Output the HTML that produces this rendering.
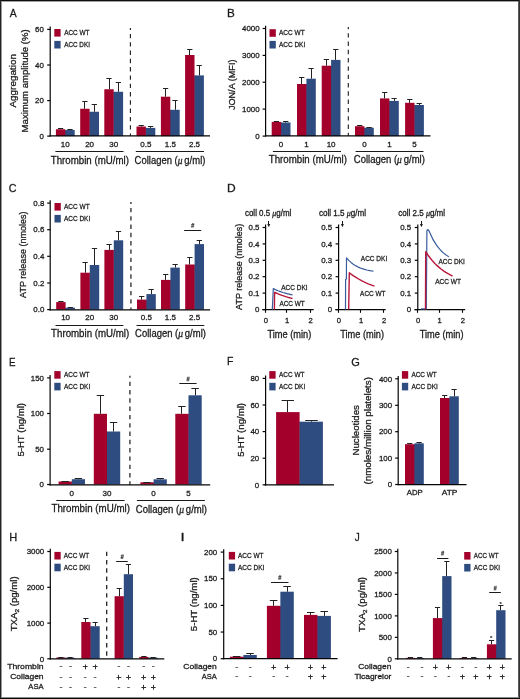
<!DOCTYPE html>
<html><head><meta charset="utf-8"><style>
html,body{margin:0;padding:0;background:#fff;}
body{width:520px;height:699px;overflow:hidden;position:relative;}
svg{position:absolute;left:0;top:0;font-family:"Liberation Sans", sans-serif;will-change:transform;}
text{stroke:#1a1a1a;stroke-width:0.28px;}
</style></head><body>
<svg width="520" height="699" viewBox="0 0 520 699">
<rect x="0" y="0" width="520" height="699" fill="#fff"/>
<text x="9.78" y="17.40" font-size="11.4" text-anchor="start" textLength="6.95" lengthAdjust="spacingAndGlyphs" fill="#1a1a1a">A</text>
<line x1="50.20" y1="26.60" x2="50.20" y2="136.40" stroke="#050505" stroke-width="1.2"/>
<line x1="47.20" y1="29.40" x2="50.20" y2="29.40" stroke="#050505" stroke-width="1.2"/>
<text x="43.90" y="32.10" font-size="7.9" text-anchor="end" fill="#1a1a1a">60</text>
<line x1="47.20" y1="65.00" x2="50.20" y2="65.00" stroke="#050505" stroke-width="1.2"/>
<text x="43.90" y="67.70" font-size="7.9" text-anchor="end" fill="#1a1a1a">40</text>
<line x1="47.20" y1="100.60" x2="50.20" y2="100.60" stroke="#050505" stroke-width="1.2"/>
<text x="43.90" y="103.30" font-size="7.9" text-anchor="end" fill="#1a1a1a">20</text>
<line x1="47.20" y1="136.10" x2="50.20" y2="136.10" stroke="#050505" stroke-width="1.2"/>
<text x="43.90" y="138.80" font-size="7.9" text-anchor="end" fill="#1a1a1a">0</text>
<line x1="130.40" y1="28.00" x2="130.40" y2="135.80" stroke="#1a1a1a" stroke-width="1.1" stroke-dasharray="4.4 3.9" stroke-dashoffset="2.40"/>
<rect x="55.90" y="129.25" width="9.40" height="6.85" fill="#a3002b"/>
<rect x="65.00" y="130.30" width="1.30" height="5.80" fill="#a3002b"/>
<rect x="65.30" y="130.00" width="9.40" height="6.10" fill="#2e4c80"/>
<rect x="80.20" y="108.75" width="9.40" height="27.35" fill="#a3002b"/>
<rect x="89.30" y="112.05" width="1.30" height="24.05" fill="#a3002b"/>
<rect x="89.60" y="111.75" width="9.40" height="24.35" fill="#2e4c80"/>
<rect x="104.30" y="89.25" width="9.40" height="46.85" fill="#a3002b"/>
<rect x="113.40" y="92.05" width="1.30" height="44.05" fill="#a3002b"/>
<rect x="113.70" y="91.75" width="9.40" height="44.35" fill="#2e4c80"/>
<rect x="136.50" y="126.50" width="9.40" height="9.60" fill="#a3002b"/>
<rect x="145.60" y="128.20" width="1.30" height="7.90" fill="#a3002b"/>
<rect x="145.90" y="127.90" width="9.40" height="8.20" fill="#2e4c80"/>
<rect x="160.90" y="96.70" width="9.40" height="39.40" fill="#a3002b"/>
<rect x="170.00" y="110.10" width="1.30" height="26.00" fill="#a3002b"/>
<rect x="170.30" y="109.80" width="9.40" height="26.30" fill="#2e4c80"/>
<rect x="185.10" y="55.00" width="9.40" height="81.10" fill="#a3002b"/>
<rect x="194.20" y="75.70" width="1.30" height="60.40" fill="#a3002b"/>
<rect x="194.50" y="75.40" width="9.40" height="60.70" fill="#2e4c80"/>
<line x1="60.50" y1="129.25" x2="60.50" y2="128.00" stroke="#222" stroke-width="1.0"/>
<line x1="57.97" y1="128.50" x2="63.23" y2="128.50" stroke="#222" stroke-width="1.0"/>
<line x1="70.50" y1="130.00" x2="70.50" y2="129.30" stroke="#222" stroke-width="1.0"/>
<line x1="67.37" y1="129.50" x2="72.63" y2="129.50" stroke="#222" stroke-width="1.0"/>
<line x1="84.50" y1="108.75" x2="84.50" y2="101.50" stroke="#222" stroke-width="1.0"/>
<line x1="82.27" y1="101.50" x2="87.53" y2="101.50" stroke="#222" stroke-width="1.0"/>
<line x1="94.50" y1="111.75" x2="94.50" y2="104.60" stroke="#222" stroke-width="1.0"/>
<line x1="91.67" y1="104.50" x2="96.93" y2="104.50" stroke="#222" stroke-width="1.0"/>
<line x1="109.50" y1="89.25" x2="109.50" y2="78.80" stroke="#222" stroke-width="1.0"/>
<line x1="106.37" y1="78.50" x2="111.63" y2="78.50" stroke="#222" stroke-width="1.0"/>
<line x1="118.50" y1="91.75" x2="118.50" y2="82.30" stroke="#222" stroke-width="1.0"/>
<line x1="115.77" y1="82.50" x2="121.03" y2="82.50" stroke="#222" stroke-width="1.0"/>
<line x1="141.50" y1="126.50" x2="141.50" y2="125.60" stroke="#222" stroke-width="1.0"/>
<line x1="138.57" y1="125.50" x2="143.83" y2="125.50" stroke="#222" stroke-width="1.0"/>
<line x1="150.50" y1="127.90" x2="150.50" y2="126.90" stroke="#222" stroke-width="1.0"/>
<line x1="147.97" y1="126.50" x2="153.23" y2="126.50" stroke="#222" stroke-width="1.0"/>
<line x1="165.50" y1="96.70" x2="165.50" y2="88.50" stroke="#222" stroke-width="1.0"/>
<line x1="162.97" y1="88.50" x2="168.23" y2="88.50" stroke="#222" stroke-width="1.0"/>
<line x1="175.50" y1="109.80" x2="175.50" y2="100.60" stroke="#222" stroke-width="1.0"/>
<line x1="172.37" y1="100.50" x2="177.63" y2="100.50" stroke="#222" stroke-width="1.0"/>
<line x1="189.50" y1="55.00" x2="189.50" y2="49.20" stroke="#222" stroke-width="1.0"/>
<line x1="187.17" y1="49.50" x2="192.43" y2="49.50" stroke="#222" stroke-width="1.0"/>
<line x1="199.50" y1="75.40" x2="199.50" y2="65.00" stroke="#222" stroke-width="1.0"/>
<line x1="196.57" y1="65.50" x2="201.83" y2="65.50" stroke="#222" stroke-width="1.0"/>
<text x="65.30" y="146.60" font-size="8.0" text-anchor="middle" fill="#1a1a1a">10</text>
<text x="89.60" y="146.60" font-size="8.0" text-anchor="middle" fill="#1a1a1a">20</text>
<text x="113.70" y="146.60" font-size="8.0" text-anchor="middle" fill="#1a1a1a">30</text>
<text x="145.90" y="146.60" font-size="8.0" text-anchor="middle" fill="#1a1a1a">0.5</text>
<text x="170.30" y="146.60" font-size="8.0" text-anchor="middle" fill="#1a1a1a">1.5</text>
<text x="194.50" y="146.60" font-size="8.0" text-anchor="middle" fill="#1a1a1a">2.5</text>
<line x1="55.40" y1="151.50" x2="123.50" y2="151.50" stroke="#1a1a1a" stroke-width="1.0"/>
<line x1="135.80" y1="151.50" x2="204.00" y2="151.50" stroke="#1a1a1a" stroke-width="1.0"/>
<text x="50.80" y="163.50" font-size="10.0" text-anchor="start" textLength="78.10" lengthAdjust="spacingAndGlyphs" fill="#1a1a1a">Thrombin (mU/ml)</text>
<text x="134.60" y="163.50" font-size="10.0" text-anchor="start" textLength="70.80" lengthAdjust="spacingAndGlyphs" fill="#1a1a1a">Collagen (<tspan font-family="Liberation Serif" font-style="italic">μ</tspan> g/ml)</text>
<text x="15.60" y="80.80" font-size="9.4" text-anchor="middle" textLength="53.60" lengthAdjust="spacingAndGlyphs" transform="rotate(-90 15.60 80.80)" fill="#1a1a1a">Aggregation</text>
<text x="27.80" y="80.90" font-size="9.4" text-anchor="middle" textLength="103.00" lengthAdjust="spacingAndGlyphs" transform="rotate(-90 27.80 80.90)" fill="#1a1a1a">Maximum amplitude (%)</text>
<rect x="54.30" y="29.00" width="6.30" height="7.60" fill="#a3002b"/>
<rect x="54.30" y="40.90" width="6.30" height="7.60" fill="#2e4c80"/>
<text x="64.20" y="35.20" font-size="8.0" text-anchor="start" textLength="25.30" lengthAdjust="spacingAndGlyphs" fill="#1a1a1a">ACC WT</text>
<text x="64.20" y="46.80" font-size="8.0" text-anchor="start" textLength="25.70" lengthAdjust="spacingAndGlyphs" fill="#1a1a1a">ACC DKI</text>
<text x="226.94" y="17.40" font-size="11.4" text-anchor="start" textLength="7.79" lengthAdjust="spacingAndGlyphs" fill="#1a1a1a">B</text>
<line x1="265.60" y1="25.70" x2="265.60" y2="136.40" stroke="#050505" stroke-width="1.2"/>
<line x1="262.60" y1="28.50" x2="265.60" y2="28.50" stroke="#050505" stroke-width="1.2"/>
<text x="259.60" y="31.20" font-size="7.9" text-anchor="end" fill="#1a1a1a">4000</text>
<line x1="262.60" y1="55.40" x2="265.60" y2="55.40" stroke="#050505" stroke-width="1.2"/>
<text x="259.60" y="58.10" font-size="7.9" text-anchor="end" fill="#1a1a1a">3000</text>
<line x1="262.60" y1="82.20" x2="265.60" y2="82.20" stroke="#050505" stroke-width="1.2"/>
<text x="259.60" y="84.90" font-size="7.9" text-anchor="end" fill="#1a1a1a">2000</text>
<line x1="262.60" y1="109.10" x2="265.60" y2="109.10" stroke="#050505" stroke-width="1.2"/>
<text x="259.60" y="111.80" font-size="7.9" text-anchor="end" fill="#1a1a1a">1000</text>
<line x1="262.60" y1="136.10" x2="265.60" y2="136.10" stroke="#050505" stroke-width="1.2"/>
<text x="259.60" y="138.80" font-size="7.9" text-anchor="end" fill="#1a1a1a">0</text>
<line x1="348.30" y1="27.10" x2="348.30" y2="135.80" stroke="#1a1a1a" stroke-width="1.1" stroke-dasharray="4.4 3.9" stroke-dashoffset="2.20"/>
<rect x="271.70" y="121.90" width="9.40" height="14.20" fill="#a3002b"/>
<rect x="280.80" y="122.80" width="1.30" height="13.30" fill="#a3002b"/>
<rect x="281.10" y="122.50" width="9.40" height="13.60" fill="#2e4c80"/>
<rect x="297.00" y="84.00" width="9.40" height="52.10" fill="#a3002b"/>
<rect x="306.10" y="84.30" width="1.30" height="51.80" fill="#a3002b"/>
<rect x="306.40" y="78.70" width="9.40" height="57.40" fill="#2e4c80"/>
<rect x="321.70" y="65.70" width="9.40" height="70.40" fill="#a3002b"/>
<rect x="330.80" y="66.00" width="1.30" height="70.10" fill="#a3002b"/>
<rect x="331.10" y="59.90" width="9.40" height="76.20" fill="#2e4c80"/>
<rect x="355.00" y="126.20" width="9.40" height="9.90" fill="#a3002b"/>
<rect x="364.10" y="128.00" width="1.30" height="8.10" fill="#a3002b"/>
<rect x="364.40" y="127.70" width="9.40" height="8.40" fill="#2e4c80"/>
<rect x="380.00" y="98.40" width="9.40" height="37.70" fill="#a3002b"/>
<rect x="389.10" y="101.20" width="1.30" height="34.90" fill="#a3002b"/>
<rect x="389.40" y="100.90" width="9.40" height="35.20" fill="#2e4c80"/>
<rect x="405.10" y="102.80" width="9.40" height="33.30" fill="#a3002b"/>
<rect x="414.20" y="105.30" width="1.30" height="30.80" fill="#a3002b"/>
<rect x="414.50" y="105.00" width="9.40" height="31.10" fill="#2e4c80"/>
<line x1="276.50" y1="121.90" x2="276.50" y2="121.30" stroke="#222" stroke-width="1.0"/>
<line x1="273.77" y1="121.50" x2="279.03" y2="121.50" stroke="#222" stroke-width="1.0"/>
<line x1="285.50" y1="122.50" x2="285.50" y2="121.90" stroke="#222" stroke-width="1.0"/>
<line x1="283.17" y1="121.50" x2="288.43" y2="121.50" stroke="#222" stroke-width="1.0"/>
<line x1="301.50" y1="84.00" x2="301.50" y2="77.90" stroke="#222" stroke-width="1.0"/>
<line x1="299.07" y1="77.50" x2="304.33" y2="77.50" stroke="#222" stroke-width="1.0"/>
<line x1="311.50" y1="78.70" x2="311.50" y2="68.00" stroke="#222" stroke-width="1.0"/>
<line x1="308.47" y1="68.50" x2="313.73" y2="68.50" stroke="#222" stroke-width="1.0"/>
<line x1="326.50" y1="65.70" x2="326.50" y2="59.70" stroke="#222" stroke-width="1.0"/>
<line x1="323.77" y1="59.50" x2="329.03" y2="59.50" stroke="#222" stroke-width="1.0"/>
<line x1="335.50" y1="59.90" x2="335.50" y2="49.40" stroke="#222" stroke-width="1.0"/>
<line x1="333.17" y1="49.50" x2="338.43" y2="49.50" stroke="#222" stroke-width="1.0"/>
<line x1="359.50" y1="126.20" x2="359.50" y2="125.70" stroke="#222" stroke-width="1.0"/>
<line x1="357.07" y1="125.50" x2="362.33" y2="125.50" stroke="#222" stroke-width="1.0"/>
<line x1="369.50" y1="127.70" x2="369.50" y2="127.20" stroke="#222" stroke-width="1.0"/>
<line x1="366.47" y1="127.50" x2="371.73" y2="127.50" stroke="#222" stroke-width="1.0"/>
<line x1="384.50" y1="98.40" x2="384.50" y2="92.30" stroke="#222" stroke-width="1.0"/>
<line x1="382.07" y1="92.50" x2="387.33" y2="92.50" stroke="#222" stroke-width="1.0"/>
<line x1="394.50" y1="100.90" x2="394.50" y2="98.80" stroke="#222" stroke-width="1.0"/>
<line x1="391.47" y1="98.50" x2="396.73" y2="98.50" stroke="#222" stroke-width="1.0"/>
<line x1="409.50" y1="102.80" x2="409.50" y2="99.50" stroke="#222" stroke-width="1.0"/>
<line x1="407.17" y1="99.50" x2="412.43" y2="99.50" stroke="#222" stroke-width="1.0"/>
<line x1="419.50" y1="105.00" x2="419.50" y2="103.40" stroke="#222" stroke-width="1.0"/>
<line x1="416.57" y1="103.50" x2="421.83" y2="103.50" stroke="#222" stroke-width="1.0"/>
<text x="281.10" y="146.50" font-size="8.0" text-anchor="middle" fill="#1a1a1a">0</text>
<text x="306.40" y="146.50" font-size="8.0" text-anchor="middle" fill="#1a1a1a">1</text>
<text x="331.10" y="146.50" font-size="8.0" text-anchor="middle" fill="#1a1a1a">10</text>
<text x="364.40" y="146.50" font-size="8.0" text-anchor="middle" fill="#1a1a1a">0</text>
<text x="389.40" y="146.50" font-size="8.0" text-anchor="middle" fill="#1a1a1a">1</text>
<text x="414.50" y="146.50" font-size="8.0" text-anchor="middle" fill="#1a1a1a">5</text>
<line x1="272.90" y1="151.50" x2="341.00" y2="151.50" stroke="#1a1a1a" stroke-width="1.0"/>
<line x1="355.60" y1="151.50" x2="423.50" y2="151.50" stroke="#1a1a1a" stroke-width="1.0"/>
<text x="268.80" y="163.20" font-size="10.0" text-anchor="start" textLength="78.10" lengthAdjust="spacingAndGlyphs" fill="#1a1a1a">Thrombin (mU/ml)</text>
<text x="353.80" y="163.20" font-size="10.0" text-anchor="start" textLength="71.10" lengthAdjust="spacingAndGlyphs" fill="#1a1a1a">Collagen (<tspan font-family="Liberation Serif" font-style="italic">μ</tspan> g/ml)</text>
<text x="235.40" y="84.80" font-size="9.6" text-anchor="middle" textLength="50.50" lengthAdjust="spacingAndGlyphs" transform="rotate(-90 235.40 84.80)" fill="#1a1a1a">JON/A (MFI)</text>
<rect x="269.50" y="29.20" width="6.30" height="7.60" fill="#a3002b"/>
<rect x="269.50" y="40.90" width="6.30" height="7.60" fill="#2e4c80"/>
<text x="279.00" y="35.40" font-size="8.0" text-anchor="start" textLength="25.60" lengthAdjust="spacingAndGlyphs" fill="#1a1a1a">ACC WT</text>
<text x="279.00" y="46.80" font-size="8.0" text-anchor="start" textLength="26.20" lengthAdjust="spacingAndGlyphs" fill="#1a1a1a">ACC DKI</text>
<text x="8.75" y="192.30" font-size="11.4" text-anchor="start" textLength="7.77" lengthAdjust="spacingAndGlyphs" fill="#1a1a1a">C</text>
<line x1="50.20" y1="200.30" x2="50.20" y2="310.40" stroke="#050505" stroke-width="1.2"/>
<line x1="47.20" y1="203.10" x2="50.20" y2="203.10" stroke="#050505" stroke-width="1.2"/>
<text x="44.30" y="205.80" font-size="7.9" text-anchor="end" fill="#1a1a1a">0.8</text>
<line x1="47.20" y1="229.70" x2="50.20" y2="229.70" stroke="#050505" stroke-width="1.2"/>
<text x="44.30" y="232.40" font-size="7.9" text-anchor="end" fill="#1a1a1a">0.6</text>
<line x1="47.20" y1="256.30" x2="50.20" y2="256.30" stroke="#050505" stroke-width="1.2"/>
<text x="44.30" y="259.00" font-size="7.9" text-anchor="end" fill="#1a1a1a">0.4</text>
<line x1="47.20" y1="283.00" x2="50.20" y2="283.00" stroke="#050505" stroke-width="1.2"/>
<text x="44.30" y="285.70" font-size="7.9" text-anchor="end" fill="#1a1a1a">0.2</text>
<line x1="47.20" y1="309.60" x2="50.20" y2="309.60" stroke="#050505" stroke-width="1.2"/>
<text x="44.30" y="312.30" font-size="7.9" text-anchor="end" fill="#1a1a1a">0.0</text>
<line x1="130.90" y1="201.90" x2="130.90" y2="309.80" stroke="#5c5c5c" stroke-width="1.7" stroke-dasharray="4.4 3.9" stroke-dashoffset="2.30"/>
<rect x="56.20" y="302.10" width="9.40" height="7.50" fill="#a3002b"/>
<rect x="65.30" y="308.00" width="1.30" height="1.60" fill="#a3002b"/>
<rect x="65.60" y="307.70" width="9.40" height="1.90" fill="#2e4c80"/>
<rect x="80.40" y="272.70" width="9.40" height="36.90" fill="#a3002b"/>
<rect x="89.50" y="273.00" width="1.30" height="36.60" fill="#a3002b"/>
<rect x="89.80" y="265.00" width="9.40" height="44.60" fill="#2e4c80"/>
<rect x="104.40" y="249.90" width="9.40" height="59.70" fill="#a3002b"/>
<rect x="113.50" y="250.20" width="1.30" height="59.40" fill="#a3002b"/>
<rect x="113.80" y="240.30" width="9.40" height="69.30" fill="#2e4c80"/>
<rect x="137.00" y="299.60" width="9.40" height="10.00" fill="#a3002b"/>
<rect x="146.10" y="299.90" width="1.30" height="9.70" fill="#a3002b"/>
<rect x="146.40" y="294.10" width="9.40" height="15.50" fill="#2e4c80"/>
<rect x="161.00" y="279.90" width="9.40" height="29.70" fill="#a3002b"/>
<rect x="170.10" y="280.20" width="1.30" height="29.40" fill="#a3002b"/>
<rect x="170.40" y="267.60" width="9.40" height="42.00" fill="#2e4c80"/>
<rect x="185.20" y="264.50" width="9.40" height="45.10" fill="#a3002b"/>
<rect x="194.30" y="264.80" width="1.30" height="44.80" fill="#a3002b"/>
<rect x="194.60" y="244.10" width="9.40" height="65.50" fill="#2e4c80"/>
<line x1="60.50" y1="302.10" x2="60.50" y2="301.20" stroke="#222" stroke-width="1.0"/>
<line x1="58.27" y1="301.50" x2="63.53" y2="301.50" stroke="#222" stroke-width="1.0"/>
<line x1="70.50" y1="307.70" x2="70.50" y2="307.00" stroke="#222" stroke-width="1.0"/>
<line x1="67.67" y1="307.50" x2="72.93" y2="307.50" stroke="#222" stroke-width="1.0"/>
<line x1="85.50" y1="272.70" x2="85.50" y2="262.50" stroke="#222" stroke-width="1.0"/>
<line x1="82.47" y1="262.50" x2="87.73" y2="262.50" stroke="#222" stroke-width="1.0"/>
<line x1="94.50" y1="265.00" x2="94.50" y2="248.00" stroke="#222" stroke-width="1.0"/>
<line x1="91.87" y1="248.50" x2="97.13" y2="248.50" stroke="#222" stroke-width="1.0"/>
<line x1="109.50" y1="249.90" x2="109.50" y2="244.00" stroke="#222" stroke-width="1.0"/>
<line x1="106.47" y1="244.50" x2="111.73" y2="244.50" stroke="#222" stroke-width="1.0"/>
<line x1="118.50" y1="240.30" x2="118.50" y2="231.70" stroke="#222" stroke-width="1.0"/>
<line x1="115.87" y1="231.50" x2="121.13" y2="231.50" stroke="#222" stroke-width="1.0"/>
<line x1="141.50" y1="299.60" x2="141.50" y2="296.20" stroke="#222" stroke-width="1.0"/>
<line x1="139.07" y1="296.50" x2="144.33" y2="296.50" stroke="#222" stroke-width="1.0"/>
<line x1="151.50" y1="294.10" x2="151.50" y2="289.40" stroke="#222" stroke-width="1.0"/>
<line x1="148.47" y1="289.50" x2="153.73" y2="289.50" stroke="#222" stroke-width="1.0"/>
<line x1="165.50" y1="279.90" x2="165.50" y2="274.60" stroke="#222" stroke-width="1.0"/>
<line x1="163.07" y1="274.50" x2="168.33" y2="274.50" stroke="#222" stroke-width="1.0"/>
<line x1="175.50" y1="267.60" x2="175.50" y2="264.70" stroke="#222" stroke-width="1.0"/>
<line x1="172.47" y1="264.50" x2="177.73" y2="264.50" stroke="#222" stroke-width="1.0"/>
<line x1="189.50" y1="264.50" x2="189.50" y2="257.30" stroke="#222" stroke-width="1.0"/>
<line x1="187.27" y1="257.50" x2="192.53" y2="257.50" stroke="#222" stroke-width="1.0"/>
<line x1="199.50" y1="244.10" x2="199.50" y2="240.10" stroke="#222" stroke-width="1.0"/>
<line x1="196.67" y1="240.50" x2="201.93" y2="240.50" stroke="#222" stroke-width="1.0"/>
<text x="65.60" y="320.10" font-size="8.0" text-anchor="middle" fill="#1a1a1a">10</text>
<text x="89.80" y="320.10" font-size="8.0" text-anchor="middle" fill="#1a1a1a">20</text>
<text x="113.80" y="320.10" font-size="8.0" text-anchor="middle" fill="#1a1a1a">30</text>
<text x="146.40" y="320.10" font-size="8.0" text-anchor="middle" fill="#1a1a1a">0.5</text>
<text x="170.40" y="320.10" font-size="8.0" text-anchor="middle" fill="#1a1a1a">1.5</text>
<text x="194.60" y="320.10" font-size="8.0" text-anchor="middle" fill="#1a1a1a">2.5</text>
<line x1="55.50" y1="325.50" x2="123.40" y2="325.50" stroke="#1a1a1a" stroke-width="1.0"/>
<line x1="136.50" y1="325.50" x2="204.30" y2="325.50" stroke="#1a1a1a" stroke-width="1.0"/>
<text x="51.10" y="337.20" font-size="10.0" text-anchor="start" textLength="78.10" lengthAdjust="spacingAndGlyphs" fill="#1a1a1a">Thrombin (mU/ml)</text>
<text x="135.10" y="337.40" font-size="10.0" text-anchor="start" textLength="70.80" lengthAdjust="spacingAndGlyphs" fill="#1a1a1a">Collagen (<tspan font-family="Liberation Serif" font-style="italic">μ</tspan> g/ml)</text>
<text x="26.00" y="254.70" font-size="9.6" text-anchor="middle" textLength="86.40" lengthAdjust="spacingAndGlyphs" transform="rotate(-90 26.00 254.70)" fill="#1a1a1a">ATP release (nmoles)</text>
<rect x="54.50" y="203.00" width="6.30" height="7.60" fill="#a3002b"/>
<rect x="54.50" y="214.90" width="6.30" height="7.60" fill="#2e4c80"/>
<text x="64.00" y="209.20" font-size="8.0" text-anchor="start" textLength="25.60" lengthAdjust="spacingAndGlyphs" fill="#1a1a1a">ACC WT</text>
<text x="64.00" y="220.80" font-size="8.0" text-anchor="start" textLength="26.20" lengthAdjust="spacingAndGlyphs" fill="#1a1a1a">ACC DKI</text>
<line x1="184.10" y1="230.50" x2="201.20" y2="230.50" stroke="#1a1a1a" stroke-width="1.0"/>
<path d="M191.20,224.50 H194.40 M191.00,226.30 H194.20 M192.50,223.10 L191.70,227.70 M193.70,223.10 L192.90,227.70" stroke="#3a3a3a" stroke-width="0.75" fill="none"/>
<text x="226.91" y="192.20" font-size="11.4" text-anchor="start" textLength="8.68" lengthAdjust="spacingAndGlyphs" fill="#1a1a1a">D</text>
<text x="242.20" y="266.80" font-size="9.4" text-anchor="middle" textLength="86.20" lengthAdjust="spacingAndGlyphs" transform="rotate(-90 242.20 266.80)" fill="#1a1a1a">ATP release (nmoles)</text>
<line x1="265.60" y1="224.50" x2="265.60" y2="310.20" stroke="#050505" stroke-width="1.2"/>
<line x1="262.60" y1="227.50" x2="265.60" y2="227.50" stroke="#050505" stroke-width="1.2"/>
<text x="259.50" y="230.20" font-size="7.9" text-anchor="end" fill="#1a1a1a">0.5</text>
<line x1="262.60" y1="243.90" x2="265.60" y2="243.90" stroke="#050505" stroke-width="1.2"/>
<text x="259.50" y="246.60" font-size="7.9" text-anchor="end" fill="#1a1a1a">0.4</text>
<line x1="262.60" y1="260.30" x2="265.60" y2="260.30" stroke="#050505" stroke-width="1.2"/>
<text x="259.50" y="263.00" font-size="7.9" text-anchor="end" fill="#1a1a1a">0.3</text>
<line x1="262.60" y1="276.70" x2="265.60" y2="276.70" stroke="#050505" stroke-width="1.2"/>
<text x="259.50" y="279.40" font-size="7.9" text-anchor="end" fill="#1a1a1a">0.2</text>
<line x1="262.60" y1="293.10" x2="265.60" y2="293.10" stroke="#050505" stroke-width="1.2"/>
<text x="259.50" y="295.80" font-size="7.9" text-anchor="end" fill="#1a1a1a">0.1</text>
<line x1="262.60" y1="309.60" x2="265.60" y2="309.60" stroke="#050505" stroke-width="1.2"/>
<text x="259.50" y="312.30" font-size="7.9" text-anchor="end" fill="#1a1a1a">0</text>
<line x1="262.30" y1="309.60" x2="313.70" y2="309.60" stroke="#050505" stroke-width="1.25"/>
<line x1="265.50" y1="309.60" x2="265.50" y2="312.80" stroke="#050505" stroke-width="1.1"/>
<text x="265.90" y="323.40" font-size="7.6" text-anchor="middle" fill="#1a1a1a">0</text>
<line x1="286.50" y1="309.60" x2="286.50" y2="312.80" stroke="#050505" stroke-width="1.1"/>
<text x="287.10" y="323.40" font-size="7.6" text-anchor="middle" fill="#1a1a1a">1</text>
<line x1="310.50" y1="309.60" x2="310.50" y2="312.80" stroke="#050505" stroke-width="1.1"/>
<text x="310.50" y="323.40" font-size="7.6" text-anchor="middle" fill="#1a1a1a">2</text>
<text x="267.50" y="337.90" font-size="10.0" text-anchor="start" textLength="43.80" lengthAdjust="spacingAndGlyphs" fill="#1a1a1a">Time (min)</text>
<text x="245.00" y="216.20" font-size="8.2" text-anchor="start" textLength="46.30" lengthAdjust="spacingAndGlyphs" fill="#1a1a1a">coll 0.5 <tspan font-family="Liberation Serif" font-style="italic">μ</tspan>g/ml</text>
<line x1="268.50" y1="221.00" x2="268.50" y2="225.00" stroke="#1a1a1a" stroke-width="1.0"/>
<path d="M267.30,223.90 L270.30,223.90 L268.80,227.30 Z" fill="#1a1a1a"/>
<path d="M272.30,309.60 L273.30,288.60 L273.30,288.60 L274.90,289.37 L276.50,290.08 L278.10,290.74 L279.70,291.35 L281.30,291.92 L282.90,292.45 L284.50,292.94 L286.10,293.39 L287.70,293.81 L289.30,294.20 L290.90,294.56 L292.50,294.90" fill="none" stroke="#3a5c9c" stroke-width="1.2" stroke-linejoin="round"/>
<path d="M274.40,309.60 L274.60,292.30 L274.60,292.30 L276.09,293.00 L277.58,293.66 L279.08,294.28 L280.57,294.86 L282.06,295.42 L283.55,295.94 L285.04,296.43 L286.53,296.89 L288.02,297.33 L289.52,297.74 L291.01,298.13 L292.50,298.50" fill="none" stroke="#b8163a" stroke-width="1.4" stroke-linejoin="round"/>
<text x="281.30" y="289.50" font-size="7.9" text-anchor="start" textLength="26.20" lengthAdjust="spacingAndGlyphs" fill="#1a1a1a">ACC DKI</text>
<text x="279.40" y="306.30" font-size="7.9" text-anchor="start" textLength="25.40" lengthAdjust="spacingAndGlyphs" fill="#1a1a1a">ACC WT</text>
<line x1="338.60" y1="224.50" x2="338.60" y2="310.20" stroke="#050505" stroke-width="1.2"/>
<line x1="335.60" y1="227.50" x2="338.60" y2="227.50" stroke="#050505" stroke-width="1.2"/>
<text x="332.20" y="230.20" font-size="7.9" text-anchor="end" fill="#1a1a1a">0.5</text>
<line x1="335.60" y1="243.90" x2="338.60" y2="243.90" stroke="#050505" stroke-width="1.2"/>
<text x="332.20" y="246.60" font-size="7.9" text-anchor="end" fill="#1a1a1a">0.4</text>
<line x1="335.60" y1="260.30" x2="338.60" y2="260.30" stroke="#050505" stroke-width="1.2"/>
<text x="332.20" y="263.00" font-size="7.9" text-anchor="end" fill="#1a1a1a">0.3</text>
<line x1="335.60" y1="276.70" x2="338.60" y2="276.70" stroke="#050505" stroke-width="1.2"/>
<text x="332.20" y="279.40" font-size="7.9" text-anchor="end" fill="#1a1a1a">0.2</text>
<line x1="335.60" y1="293.10" x2="338.60" y2="293.10" stroke="#050505" stroke-width="1.2"/>
<text x="332.20" y="295.80" font-size="7.9" text-anchor="end" fill="#1a1a1a">0.1</text>
<line x1="335.60" y1="309.60" x2="338.60" y2="309.60" stroke="#050505" stroke-width="1.2"/>
<text x="332.20" y="312.30" font-size="7.9" text-anchor="end" fill="#1a1a1a">0</text>
<line x1="335.30" y1="309.60" x2="385.70" y2="309.60" stroke="#050505" stroke-width="1.25"/>
<line x1="338.50" y1="309.60" x2="338.50" y2="312.80" stroke="#050505" stroke-width="1.1"/>
<text x="338.90" y="323.40" font-size="7.6" text-anchor="middle" fill="#1a1a1a">0</text>
<line x1="360.50" y1="309.60" x2="360.50" y2="312.80" stroke="#050505" stroke-width="1.1"/>
<text x="361.00" y="323.40" font-size="7.6" text-anchor="middle" fill="#1a1a1a">1</text>
<line x1="383.50" y1="309.60" x2="383.50" y2="312.80" stroke="#050505" stroke-width="1.1"/>
<text x="384.10" y="323.40" font-size="7.6" text-anchor="middle" fill="#1a1a1a">2</text>
<text x="340.20" y="337.90" font-size="10.0" text-anchor="start" textLength="43.80" lengthAdjust="spacingAndGlyphs" fill="#1a1a1a">Time (min)</text>
<text x="318.90" y="216.20" font-size="8.2" text-anchor="start" textLength="47.10" lengthAdjust="spacingAndGlyphs" fill="#1a1a1a">coll 1.5 <tspan font-family="Liberation Serif" font-style="italic">μ</tspan>g/ml</text>
<line x1="342.50" y1="221.00" x2="342.50" y2="225.00" stroke="#1a1a1a" stroke-width="1.0"/>
<path d="M340.90,223.90 L343.90,223.90 L342.40,227.30 Z" fill="#1a1a1a"/>
<path d="M345.50,309.60 L345.60,279.60 L346.40,279.00 L346.50,257.80 L346.50,257.80 L348.75,260.32 L351.00,262.43 L353.25,264.18 L355.50,265.63 L357.75,266.84 L360.00,267.85 L362.25,268.69 L364.50,269.39 L366.75,269.98 L369.00,270.46 L371.25,270.86 L373.50,271.20" fill="none" stroke="#3a5c9c" stroke-width="1.2" stroke-linejoin="round"/>
<path d="M348.70,309.60 L349.30,272.80 L349.30,272.80 L351.40,274.37 L353.50,275.84 L355.60,277.21 L357.70,278.50 L359.80,279.70 L361.90,280.82 L364.00,281.87 L366.10,282.86 L368.20,283.78 L370.30,284.64 L372.40,285.45 L374.50,286.20" fill="none" stroke="#b8163a" stroke-width="1.4" stroke-linejoin="round"/>
<text x="360.80" y="261.30" font-size="7.9" text-anchor="start" textLength="26.40" lengthAdjust="spacingAndGlyphs" fill="#1a1a1a">ACC DKI</text>
<text x="360.10" y="295.60" font-size="7.9" text-anchor="start" textLength="25.40" lengthAdjust="spacingAndGlyphs" fill="#1a1a1a">ACC WT</text>
<line x1="417.80" y1="224.50" x2="417.80" y2="310.20" stroke="#050505" stroke-width="1.2"/>
<line x1="414.80" y1="227.50" x2="417.80" y2="227.50" stroke="#050505" stroke-width="1.2"/>
<text x="411.20" y="230.20" font-size="7.9" text-anchor="end" fill="#1a1a1a">0.5</text>
<line x1="414.80" y1="243.90" x2="417.80" y2="243.90" stroke="#050505" stroke-width="1.2"/>
<text x="411.20" y="246.60" font-size="7.9" text-anchor="end" fill="#1a1a1a">0.4</text>
<line x1="414.80" y1="260.30" x2="417.80" y2="260.30" stroke="#050505" stroke-width="1.2"/>
<text x="411.20" y="263.00" font-size="7.9" text-anchor="end" fill="#1a1a1a">0.3</text>
<line x1="414.80" y1="276.70" x2="417.80" y2="276.70" stroke="#050505" stroke-width="1.2"/>
<text x="411.20" y="279.40" font-size="7.9" text-anchor="end" fill="#1a1a1a">0.2</text>
<line x1="414.80" y1="293.10" x2="417.80" y2="293.10" stroke="#050505" stroke-width="1.2"/>
<text x="411.20" y="295.80" font-size="7.9" text-anchor="end" fill="#1a1a1a">0.1</text>
<line x1="414.80" y1="309.60" x2="417.80" y2="309.60" stroke="#050505" stroke-width="1.2"/>
<text x="411.20" y="312.30" font-size="7.9" text-anchor="end" fill="#1a1a1a">0</text>
<line x1="414.50" y1="309.60" x2="465.20" y2="309.60" stroke="#050505" stroke-width="1.25"/>
<line x1="417.50" y1="309.60" x2="417.50" y2="312.80" stroke="#050505" stroke-width="1.1"/>
<text x="418.10" y="323.40" font-size="7.6" text-anchor="middle" fill="#1a1a1a">0</text>
<line x1="439.50" y1="309.60" x2="439.50" y2="312.80" stroke="#050505" stroke-width="1.1"/>
<text x="439.70" y="323.40" font-size="7.6" text-anchor="middle" fill="#1a1a1a">1</text>
<line x1="462.50" y1="309.60" x2="462.50" y2="312.80" stroke="#050505" stroke-width="1.1"/>
<text x="462.80" y="323.40" font-size="7.6" text-anchor="middle" fill="#1a1a1a">2</text>
<text x="419.70" y="337.90" font-size="10.0" text-anchor="start" textLength="43.80" lengthAdjust="spacingAndGlyphs" fill="#1a1a1a">Time (min)</text>
<text x="398.20" y="216.20" font-size="8.2" text-anchor="start" textLength="46.90" lengthAdjust="spacingAndGlyphs" fill="#1a1a1a">coll 2.5 <tspan font-family="Liberation Serif" font-style="italic">μ</tspan>g/ml</text>
<line x1="421.50" y1="221.00" x2="421.50" y2="225.00" stroke="#1a1a1a" stroke-width="1.0"/>
<path d="M419.90,223.90 L422.90,223.90 L421.40,227.30 Z" fill="#1a1a1a"/>
<path d="M421.0,308.8 L426.3,308.8 L426.9,231.0 C427.2,229.0 428.4,228.9 429.6,232.3 C433.0,241.0 440.0,252.5 449.0,256.8" fill="none" stroke="#3a5c9c" stroke-width="1.2" stroke-linejoin="round"/>
<path d="M425.50,309.60 L425.70,251.70 L425.70,251.70 L427.93,255.01 L430.17,258.00 L432.40,260.71 L434.63,263.16 L436.87,265.38 L439.10,267.39 L441.33,269.21 L443.57,270.85 L445.80,272.34 L448.03,273.68 L450.27,274.90 L452.50,276.00" fill="none" stroke="#b8163a" stroke-width="1.4" stroke-linejoin="round"/>
<text x="438.40" y="263.90" font-size="7.9" text-anchor="start" textLength="26.40" lengthAdjust="spacingAndGlyphs" fill="#1a1a1a">ACC DKI</text>
<text x="435.20" y="283.60" font-size="7.9" text-anchor="start" textLength="25.80" lengthAdjust="spacingAndGlyphs" fill="#1a1a1a">ACC WT</text>
<text x="9.10" y="365.50" font-size="11.4" text-anchor="start" textLength="6.53" lengthAdjust="spacingAndGlyphs" fill="#1a1a1a">E</text>
<line x1="50.10" y1="375.10" x2="50.10" y2="485.50" stroke="#050505" stroke-width="1.2"/>
<line x1="47.10" y1="377.90" x2="50.10" y2="377.90" stroke="#050505" stroke-width="1.2"/>
<text x="44.00" y="380.60" font-size="7.9" text-anchor="end" fill="#1a1a1a">150</text>
<line x1="47.10" y1="413.50" x2="50.10" y2="413.50" stroke="#050505" stroke-width="1.2"/>
<text x="44.00" y="416.20" font-size="7.9" text-anchor="end" fill="#1a1a1a">100</text>
<line x1="47.10" y1="449.20" x2="50.10" y2="449.20" stroke="#050505" stroke-width="1.2"/>
<text x="44.00" y="451.90" font-size="7.9" text-anchor="end" fill="#1a1a1a">50</text>
<line x1="47.10" y1="484.50" x2="50.10" y2="484.50" stroke="#050505" stroke-width="1.2"/>
<text x="44.00" y="487.20" font-size="7.9" text-anchor="end" fill="#1a1a1a">0</text>
<line x1="129.90" y1="375.80" x2="129.90" y2="484.70" stroke="#5c5c5c" stroke-width="1.7" stroke-dasharray="4.4 3.9" stroke-dashoffset="2.40"/>
<rect x="58.60" y="481.50" width="13.20" height="3.00" fill="#a3002b"/>
<rect x="71.50" y="481.80" width="1.30" height="2.70" fill="#a3002b"/>
<rect x="71.80" y="479.20" width="13.20" height="5.30" fill="#2e4c80"/>
<rect x="93.80" y="413.80" width="13.20" height="70.70" fill="#a3002b"/>
<rect x="106.70" y="431.80" width="1.30" height="52.70" fill="#a3002b"/>
<rect x="107.00" y="431.50" width="13.20" height="53.00" fill="#2e4c80"/>
<rect x="140.40" y="482.30" width="13.20" height="2.20" fill="#a3002b"/>
<rect x="153.30" y="482.60" width="1.30" height="1.90" fill="#a3002b"/>
<rect x="153.60" y="479.30" width="13.20" height="5.20" fill="#2e4c80"/>
<rect x="175.30" y="413.80" width="13.20" height="70.70" fill="#a3002b"/>
<rect x="188.20" y="414.10" width="1.30" height="70.40" fill="#a3002b"/>
<rect x="188.50" y="395.30" width="13.20" height="89.20" fill="#2e4c80"/>
<line x1="65.50" y1="481.50" x2="65.50" y2="481.00" stroke="#222" stroke-width="1.0"/>
<line x1="61.50" y1="481.50" x2="68.90" y2="481.50" stroke="#222" stroke-width="1.0"/>
<line x1="78.50" y1="479.20" x2="78.50" y2="478.00" stroke="#222" stroke-width="1.0"/>
<line x1="74.70" y1="478.50" x2="82.10" y2="478.50" stroke="#222" stroke-width="1.0"/>
<line x1="100.50" y1="413.80" x2="100.50" y2="395.10" stroke="#222" stroke-width="1.0"/>
<line x1="96.70" y1="395.50" x2="104.10" y2="395.50" stroke="#222" stroke-width="1.0"/>
<line x1="113.50" y1="431.50" x2="113.50" y2="422.80" stroke="#222" stroke-width="1.0"/>
<line x1="109.90" y1="422.50" x2="117.30" y2="422.50" stroke="#222" stroke-width="1.0"/>
<line x1="143.30" y1="482.50" x2="150.70" y2="482.50" stroke="#222" stroke-width="1.0"/>
<line x1="160.50" y1="479.30" x2="160.50" y2="478.20" stroke="#222" stroke-width="1.0"/>
<line x1="156.50" y1="478.50" x2="163.90" y2="478.50" stroke="#222" stroke-width="1.0"/>
<line x1="181.50" y1="413.80" x2="181.50" y2="406.80" stroke="#222" stroke-width="1.0"/>
<line x1="178.20" y1="406.50" x2="185.60" y2="406.50" stroke="#222" stroke-width="1.0"/>
<line x1="195.50" y1="395.30" x2="195.50" y2="388.80" stroke="#222" stroke-width="1.0"/>
<line x1="191.40" y1="388.50" x2="198.80" y2="388.50" stroke="#222" stroke-width="1.0"/>
<text x="71.80" y="495.60" font-size="8.0" text-anchor="middle" fill="#1a1a1a">0</text>
<text x="107.00" y="495.60" font-size="8.0" text-anchor="middle" fill="#1a1a1a">30</text>
<text x="153.60" y="495.60" font-size="8.0" text-anchor="middle" fill="#1a1a1a">0</text>
<text x="188.50" y="495.60" font-size="8.0" text-anchor="middle" fill="#1a1a1a">5</text>
<line x1="56.30" y1="500.50" x2="124.60" y2="500.50" stroke="#1a1a1a" stroke-width="1.0"/>
<line x1="136.90" y1="500.50" x2="204.90" y2="500.50" stroke="#1a1a1a" stroke-width="1.0"/>
<text x="51.50" y="512.40" font-size="10.0" text-anchor="start" textLength="78.40" lengthAdjust="spacingAndGlyphs" fill="#1a1a1a">Thrombin (mU/ml)</text>
<text x="135.80" y="512.80" font-size="10.0" text-anchor="start" textLength="71.20" lengthAdjust="spacingAndGlyphs" fill="#1a1a1a">Collagen (<tspan font-family="Liberation Serif" font-style="italic">μ</tspan> g/ml)</text>
<text x="23.60" y="429.80" font-size="9.4" text-anchor="middle" textLength="53.50" lengthAdjust="spacingAndGlyphs" transform="rotate(-90 23.60 429.80)" fill="#1a1a1a">5-HT (ng/ml)</text>
<rect x="54.30" y="371.10" width="6.30" height="7.60" fill="#a3002b"/>
<rect x="54.30" y="382.80" width="6.30" height="7.60" fill="#2e4c80"/>
<text x="64.00" y="377.30" font-size="8.0" text-anchor="start" textLength="25.40" lengthAdjust="spacingAndGlyphs" fill="#1a1a1a">ACC WT</text>
<text x="64.00" y="388.70" font-size="8.0" text-anchor="start" textLength="26.20" lengthAdjust="spacingAndGlyphs" fill="#1a1a1a">ACC DKI</text>
<line x1="179.30" y1="383.50" x2="196.60" y2="383.50" stroke="#1a1a1a" stroke-width="1.0"/>
<path d="M186.60,378.10 H189.80 M186.40,379.90 H189.60 M187.90,376.70 L187.10,381.30 M189.10,376.70 L188.30,381.30" stroke="#3a3a3a" stroke-width="0.75" fill="none"/>
<text x="227.04" y="365.40" font-size="11.4" text-anchor="start" textLength="6.38" lengthAdjust="spacingAndGlyphs" fill="#1a1a1a">F</text>
<line x1="265.60" y1="375.60" x2="265.60" y2="485.40" stroke="#050505" stroke-width="1.2"/>
<line x1="262.60" y1="378.40" x2="265.60" y2="378.40" stroke="#050505" stroke-width="1.2"/>
<text x="259.20" y="381.10" font-size="7.9" text-anchor="end" fill="#1a1a1a">80</text>
<line x1="262.60" y1="405.00" x2="265.60" y2="405.00" stroke="#050505" stroke-width="1.2"/>
<text x="259.20" y="407.70" font-size="7.9" text-anchor="end" fill="#1a1a1a">60</text>
<line x1="262.60" y1="431.60" x2="265.60" y2="431.60" stroke="#050505" stroke-width="1.2"/>
<text x="259.20" y="434.30" font-size="7.9" text-anchor="end" fill="#1a1a1a">40</text>
<line x1="262.60" y1="458.20" x2="265.60" y2="458.20" stroke="#050505" stroke-width="1.2"/>
<text x="259.20" y="460.90" font-size="7.9" text-anchor="end" fill="#1a1a1a">20</text>
<line x1="262.60" y1="484.80" x2="265.60" y2="484.80" stroke="#050505" stroke-width="1.2"/>
<text x="259.20" y="487.50" font-size="7.9" text-anchor="end" fill="#1a1a1a">0</text>
<rect x="276.10" y="412.10" width="23.50" height="72.70" fill="#a3002b"/>
<rect x="299.30" y="421.90" width="1.30" height="62.90" fill="#a3002b"/>
<rect x="299.60" y="421.70" width="23.30" height="63.10" fill="#2e4c80"/>
<line x1="287.50" y1="412.10" x2="287.50" y2="400.80" stroke="#222" stroke-width="1.0"/>
<line x1="281.60" y1="400.50" x2="294.00" y2="400.50" stroke="#222" stroke-width="1.0"/>
<line x1="311.50" y1="421.70" x2="311.50" y2="420.50" stroke="#222" stroke-width="1.0"/>
<line x1="305.25" y1="420.50" x2="317.75" y2="420.50" stroke="#222" stroke-width="1.0"/>
<rect x="269.30" y="371.10" width="6.30" height="7.60" fill="#a3002b"/>
<rect x="269.30" y="382.80" width="6.30" height="7.60" fill="#2e4c80"/>
<text x="279.00" y="377.30" font-size="8.0" text-anchor="start" textLength="25.40" lengthAdjust="spacingAndGlyphs" fill="#1a1a1a">ACC WT</text>
<text x="279.00" y="388.70" font-size="8.0" text-anchor="start" textLength="26.20" lengthAdjust="spacingAndGlyphs" fill="#1a1a1a">ACC DKI</text>
<text x="244.20" y="429.90" font-size="9.4" text-anchor="middle" textLength="53.90" lengthAdjust="spacingAndGlyphs" transform="rotate(-90 244.20 429.90)" fill="#1a1a1a">5-HT (ng/ml)</text>
<text x="351.35" y="366.00" font-size="11.4" text-anchor="start" textLength="8.59" lengthAdjust="spacingAndGlyphs" fill="#1a1a1a">G</text>
<line x1="398.20" y1="376.00" x2="398.20" y2="485.30" stroke="#050505" stroke-width="1.2"/>
<line x1="395.20" y1="378.80" x2="398.20" y2="378.80" stroke="#050505" stroke-width="1.2"/>
<text x="392.10" y="381.50" font-size="7.9" text-anchor="end" fill="#1a1a1a">400</text>
<line x1="395.20" y1="405.30" x2="398.20" y2="405.30" stroke="#050505" stroke-width="1.2"/>
<text x="392.10" y="408.00" font-size="7.9" text-anchor="end" fill="#1a1a1a">300</text>
<line x1="395.20" y1="431.70" x2="398.20" y2="431.70" stroke="#050505" stroke-width="1.2"/>
<text x="392.10" y="434.40" font-size="7.9" text-anchor="end" fill="#1a1a1a">200</text>
<line x1="395.20" y1="458.10" x2="398.20" y2="458.10" stroke="#050505" stroke-width="1.2"/>
<text x="392.10" y="460.80" font-size="7.9" text-anchor="end" fill="#1a1a1a">100</text>
<line x1="395.20" y1="484.50" x2="398.20" y2="484.50" stroke="#050505" stroke-width="1.2"/>
<text x="392.10" y="487.20" font-size="7.9" text-anchor="end" fill="#1a1a1a">0</text>
<rect x="405.00" y="444.20" width="9.40" height="40.30" fill="#a3002b"/>
<rect x="414.10" y="444.50" width="1.30" height="40.00" fill="#a3002b"/>
<rect x="414.40" y="443.30" width="9.40" height="41.20" fill="#2e4c80"/>
<rect x="440.00" y="398.00" width="9.40" height="86.50" fill="#a3002b"/>
<rect x="449.10" y="398.30" width="1.30" height="86.20" fill="#a3002b"/>
<rect x="449.40" y="396.30" width="9.40" height="88.20" fill="#2e4c80"/>
<line x1="409.50" y1="444.20" x2="409.50" y2="443.60" stroke="#222" stroke-width="1.0"/>
<line x1="407.07" y1="443.50" x2="412.33" y2="443.50" stroke="#222" stroke-width="1.0"/>
<line x1="419.50" y1="443.30" x2="419.50" y2="442.00" stroke="#222" stroke-width="1.0"/>
<line x1="416.47" y1="442.50" x2="421.73" y2="442.50" stroke="#222" stroke-width="1.0"/>
<line x1="444.50" y1="398.00" x2="444.50" y2="395.50" stroke="#222" stroke-width="1.0"/>
<line x1="442.07" y1="395.50" x2="447.33" y2="395.50" stroke="#222" stroke-width="1.0"/>
<line x1="454.50" y1="396.30" x2="454.50" y2="389.50" stroke="#222" stroke-width="1.0"/>
<line x1="451.47" y1="389.50" x2="456.73" y2="389.50" stroke="#222" stroke-width="1.0"/>
<text x="414.70" y="494.90" font-size="8.0" text-anchor="middle" textLength="16.00" lengthAdjust="spacingAndGlyphs" fill="#1a1a1a">ADP</text>
<text x="449.60" y="494.90" font-size="8.0" text-anchor="middle" textLength="15.60" lengthAdjust="spacingAndGlyphs" fill="#1a1a1a">ATP</text>
<rect x="401.90" y="371.10" width="6.30" height="7.60" fill="#a3002b"/>
<rect x="401.90" y="382.80" width="6.30" height="7.60" fill="#2e4c80"/>
<text x="411.40" y="377.30" font-size="8.0" text-anchor="start" textLength="25.40" lengthAdjust="spacingAndGlyphs" fill="#1a1a1a">ACC WT</text>
<text x="411.40" y="388.70" font-size="8.0" text-anchor="start" textLength="26.40" lengthAdjust="spacingAndGlyphs" fill="#1a1a1a">ACC DKI</text>
<text x="359.00" y="430.30" font-size="9.4" text-anchor="middle" textLength="50.50" lengthAdjust="spacingAndGlyphs" transform="rotate(-90 359.00 430.30)" fill="#1a1a1a">Nucleotides</text>
<text x="370.90" y="430.80" font-size="9.4" text-anchor="middle" textLength="107.50" lengthAdjust="spacingAndGlyphs" transform="rotate(-90 370.90 430.80)" fill="#1a1a1a">(nmoles/million platelets)</text>
<text x="9.19" y="540.50" font-size="11.4" text-anchor="start" textLength="8.02" lengthAdjust="spacingAndGlyphs" fill="#1a1a1a">H</text>
<line x1="50.30" y1="548.80" x2="50.30" y2="659.40" stroke="#050505" stroke-width="1.2"/>
<line x1="47.30" y1="551.50" x2="50.30" y2="551.50" stroke="#050505" stroke-width="1.2"/>
<text x="44.20" y="554.20" font-size="7.9" text-anchor="end" fill="#1a1a1a">3000</text>
<line x1="47.30" y1="587.30" x2="50.30" y2="587.30" stroke="#050505" stroke-width="1.2"/>
<text x="44.20" y="590.00" font-size="7.9" text-anchor="end" fill="#1a1a1a">2000</text>
<line x1="47.30" y1="623.10" x2="50.30" y2="623.10" stroke="#050505" stroke-width="1.2"/>
<text x="44.20" y="625.80" font-size="7.9" text-anchor="end" fill="#1a1a1a">1000</text>
<line x1="47.30" y1="658.80" x2="50.30" y2="658.80" stroke="#050505" stroke-width="1.2"/>
<text x="44.20" y="661.50" font-size="7.9" text-anchor="end" fill="#1a1a1a">0</text>
<line x1="106.70" y1="551.80" x2="106.70" y2="658.80" stroke="#1a1a1a" stroke-width="1.25" stroke-dasharray="4.4 3.9" stroke-dashoffset="0.10"/>
<rect x="56.30" y="657.50" width="9.20" height="1.20" fill="#a3002b"/>
<rect x="65.20" y="658.00" width="1.30" height="0.70" fill="#a3002b"/>
<rect x="65.50" y="657.70" width="9.20" height="1.00" fill="#2e4c80"/>
<rect x="81.30" y="622.00" width="9.20" height="36.70" fill="#a3002b"/>
<rect x="90.20" y="626.50" width="1.30" height="32.20" fill="#a3002b"/>
<rect x="90.50" y="626.20" width="9.20" height="32.50" fill="#2e4c80"/>
<rect x="114.60" y="596.20" width="9.20" height="62.50" fill="#a3002b"/>
<rect x="123.50" y="596.50" width="1.30" height="62.20" fill="#a3002b"/>
<rect x="123.80" y="574.20" width="9.20" height="84.50" fill="#2e4c80"/>
<rect x="139.30" y="656.90" width="9.20" height="1.80" fill="#a3002b"/>
<rect x="148.20" y="657.90" width="1.30" height="0.80" fill="#a3002b"/>
<rect x="148.50" y="657.60" width="9.20" height="1.10" fill="#2e4c80"/>
<line x1="60.50" y1="657.50" x2="60.50" y2="657.00" stroke="#222" stroke-width="1.0"/>
<line x1="58.32" y1="657.50" x2="63.48" y2="657.50" stroke="#222" stroke-width="1.0"/>
<line x1="70.50" y1="657.70" x2="70.50" y2="657.20" stroke="#222" stroke-width="1.0"/>
<line x1="67.52" y1="657.50" x2="72.68" y2="657.50" stroke="#222" stroke-width="1.0"/>
<line x1="85.50" y1="622.00" x2="85.50" y2="618.30" stroke="#222" stroke-width="1.0"/>
<line x1="83.32" y1="618.50" x2="88.48" y2="618.50" stroke="#222" stroke-width="1.0"/>
<line x1="95.50" y1="626.20" x2="95.50" y2="622.00" stroke="#222" stroke-width="1.0"/>
<line x1="92.52" y1="622.50" x2="97.68" y2="622.50" stroke="#222" stroke-width="1.0"/>
<line x1="119.50" y1="596.20" x2="119.50" y2="588.80" stroke="#222" stroke-width="1.0"/>
<line x1="116.62" y1="588.50" x2="121.78" y2="588.50" stroke="#222" stroke-width="1.0"/>
<line x1="128.50" y1="574.20" x2="128.50" y2="564.00" stroke="#222" stroke-width="1.0"/>
<line x1="125.82" y1="564.50" x2="130.98" y2="564.50" stroke="#222" stroke-width="1.0"/>
<line x1="143.50" y1="656.90" x2="143.50" y2="656.20" stroke="#222" stroke-width="1.0"/>
<line x1="141.32" y1="656.50" x2="146.48" y2="656.50" stroke="#222" stroke-width="1.0"/>
<line x1="153.50" y1="657.60" x2="153.50" y2="657.20" stroke="#222" stroke-width="1.0"/>
<line x1="150.52" y1="657.50" x2="155.68" y2="657.50" stroke="#222" stroke-width="1.0"/>
<line x1="59.70" y1="666.50" x2="62.30" y2="666.50" stroke="#666" stroke-width="1.0"/>
<line x1="69.20" y1="666.50" x2="71.80" y2="666.50" stroke="#666" stroke-width="1.0"/>
<line x1="82.80" y1="666.50" x2="87.60" y2="666.50" stroke="#333" stroke-width="1.0"/>
<line x1="85.50" y1="664.50" x2="85.50" y2="669.30" stroke="#333" stroke-width="1.0"/>
<line x1="92.70" y1="666.50" x2="97.50" y2="666.50" stroke="#333" stroke-width="1.0"/>
<line x1="95.50" y1="664.50" x2="95.50" y2="669.30" stroke="#333" stroke-width="1.0"/>
<line x1="117.60" y1="666.50" x2="120.20" y2="666.50" stroke="#666" stroke-width="1.0"/>
<line x1="127.20" y1="666.50" x2="129.80" y2="666.50" stroke="#666" stroke-width="1.0"/>
<line x1="142.40" y1="666.50" x2="145.00" y2="666.50" stroke="#666" stroke-width="1.0"/>
<line x1="152.00" y1="666.50" x2="154.60" y2="666.50" stroke="#666" stroke-width="1.0"/>
<line x1="59.70" y1="677.50" x2="62.30" y2="677.50" stroke="#666" stroke-width="1.0"/>
<line x1="69.20" y1="677.50" x2="71.80" y2="677.50" stroke="#666" stroke-width="1.0"/>
<line x1="83.90" y1="677.50" x2="86.50" y2="677.50" stroke="#666" stroke-width="1.0"/>
<line x1="93.80" y1="677.50" x2="96.40" y2="677.50" stroke="#666" stroke-width="1.0"/>
<line x1="116.50" y1="677.50" x2="121.30" y2="677.50" stroke="#333" stroke-width="1.0"/>
<line x1="118.50" y1="674.90" x2="118.50" y2="679.70" stroke="#333" stroke-width="1.0"/>
<line x1="126.10" y1="677.50" x2="130.90" y2="677.50" stroke="#333" stroke-width="1.0"/>
<line x1="128.50" y1="674.90" x2="128.50" y2="679.70" stroke="#333" stroke-width="1.0"/>
<line x1="141.30" y1="677.50" x2="146.10" y2="677.50" stroke="#333" stroke-width="1.0"/>
<line x1="143.50" y1="674.90" x2="143.50" y2="679.70" stroke="#333" stroke-width="1.0"/>
<line x1="150.90" y1="677.50" x2="155.70" y2="677.50" stroke="#333" stroke-width="1.0"/>
<line x1="153.50" y1="674.90" x2="153.50" y2="679.70" stroke="#333" stroke-width="1.0"/>
<line x1="59.70" y1="687.50" x2="62.30" y2="687.50" stroke="#666" stroke-width="1.0"/>
<line x1="69.20" y1="687.50" x2="71.80" y2="687.50" stroke="#666" stroke-width="1.0"/>
<line x1="83.90" y1="687.50" x2="86.50" y2="687.50" stroke="#666" stroke-width="1.0"/>
<line x1="93.80" y1="687.50" x2="96.40" y2="687.50" stroke="#666" stroke-width="1.0"/>
<line x1="117.60" y1="687.50" x2="120.20" y2="687.50" stroke="#666" stroke-width="1.0"/>
<line x1="127.20" y1="687.50" x2="129.80" y2="687.50" stroke="#666" stroke-width="1.0"/>
<line x1="141.30" y1="687.50" x2="146.10" y2="687.50" stroke="#333" stroke-width="1.0"/>
<line x1="143.50" y1="684.90" x2="143.50" y2="689.70" stroke="#333" stroke-width="1.0"/>
<line x1="150.90" y1="687.50" x2="155.70" y2="687.50" stroke="#333" stroke-width="1.0"/>
<line x1="153.50" y1="684.90" x2="153.50" y2="689.70" stroke="#333" stroke-width="1.0"/>
<text x="43.60" y="668.90" font-size="7.9" text-anchor="end" textLength="36.40" lengthAdjust="spacingAndGlyphs" fill="#1a1a1a">Thrombin</text>
<text x="43.60" y="679.20" font-size="7.9" text-anchor="end" textLength="33.40" lengthAdjust="spacingAndGlyphs" fill="#1a1a1a">Collagen</text>
<text x="43.60" y="689.30" font-size="7.9" text-anchor="end" textLength="15.30" lengthAdjust="spacingAndGlyphs" fill="#1a1a1a">ASA</text>
<line x1="116.20" y1="561.50" x2="127.80" y2="561.50" stroke="#1a1a1a" stroke-width="1.0"/>
<path d="M120.70,555.80 H123.90 M120.50,557.60 H123.70 M122.00,554.40 L121.20,559.00 M123.20,554.40 L122.40,559.00" stroke="#3a3a3a" stroke-width="0.75" fill="none"/>
<text x="17.4" y="603.8" font-size="9.4" text-anchor="middle" transform="rotate(-90 17.4 603.8)" fill="#1a1a1a" textLength="55" lengthAdjust="spacingAndGlyphs">TXA<tspan font-size="6.2" dy="1.3">2</tspan><tspan dy="-1.3"> (pg/ml)</tspan></text>
<rect x="54.40" y="551.90" width="6.30" height="7.60" fill="#a3002b"/>
<rect x="54.40" y="563.70" width="6.30" height="7.60" fill="#2e4c80"/>
<text x="63.80" y="558.10" font-size="8.0" text-anchor="start" textLength="25.40" lengthAdjust="spacingAndGlyphs" fill="#1a1a1a">ACC WT</text>
<text x="63.80" y="569.60" font-size="8.0" text-anchor="start" textLength="26.20" lengthAdjust="spacingAndGlyphs" fill="#1a1a1a">ACC DKI</text>
<text x="180.52" y="540.50" font-size="11.4" text-anchor="start" textLength="4.18" lengthAdjust="spacingAndGlyphs" fill="#1a1a1a">I</text>
<line x1="223.70" y1="549.30" x2="223.70" y2="659.30" stroke="#050505" stroke-width="1.2"/>
<line x1="220.70" y1="658.70" x2="223.70" y2="658.70" stroke="#050505" stroke-width="1.2"/>
<text x="217.20" y="661.40" font-size="7.9" text-anchor="end" fill="#1a1a1a">0</text>
<line x1="220.70" y1="632.05" x2="223.70" y2="632.05" stroke="#050505" stroke-width="1.2"/>
<text x="217.20" y="634.75" font-size="7.9" text-anchor="end" fill="#1a1a1a">50</text>
<line x1="220.70" y1="605.40" x2="223.70" y2="605.40" stroke="#050505" stroke-width="1.2"/>
<text x="217.20" y="608.10" font-size="7.9" text-anchor="end" fill="#1a1a1a">100</text>
<line x1="220.70" y1="578.75" x2="223.70" y2="578.75" stroke="#050505" stroke-width="1.2"/>
<text x="217.20" y="581.45" font-size="7.9" text-anchor="end" fill="#1a1a1a">150</text>
<line x1="220.70" y1="552.10" x2="223.70" y2="552.10" stroke="#050505" stroke-width="1.2"/>
<text x="217.20" y="554.80" font-size="7.9" text-anchor="end" fill="#1a1a1a">200</text>
<rect x="229.90" y="656.70" width="13.45" height="2.00" fill="#a3002b"/>
<rect x="243.05" y="657.00" width="1.30" height="1.70" fill="#a3002b"/>
<rect x="243.35" y="655.00" width="13.45" height="3.70" fill="#2e4c80"/>
<rect x="266.90" y="605.80" width="13.45" height="52.90" fill="#a3002b"/>
<rect x="280.05" y="606.10" width="1.30" height="52.60" fill="#a3002b"/>
<rect x="280.35" y="591.70" width="13.45" height="67.00" fill="#2e4c80"/>
<rect x="304.00" y="614.90" width="13.45" height="43.80" fill="#a3002b"/>
<rect x="317.15" y="616.20" width="1.30" height="42.50" fill="#a3002b"/>
<rect x="317.45" y="615.90" width="13.45" height="42.80" fill="#2e4c80"/>
<line x1="236.50" y1="656.70" x2="236.50" y2="656.00" stroke="#222" stroke-width="1.0"/>
<line x1="232.86" y1="656.50" x2="240.39" y2="656.50" stroke="#222" stroke-width="1.0"/>
<line x1="250.50" y1="655.00" x2="250.50" y2="653.60" stroke="#222" stroke-width="1.0"/>
<line x1="246.31" y1="653.50" x2="253.84" y2="653.50" stroke="#222" stroke-width="1.0"/>
<line x1="273.50" y1="605.80" x2="273.50" y2="600.10" stroke="#222" stroke-width="1.0"/>
<line x1="269.86" y1="600.50" x2="277.39" y2="600.50" stroke="#222" stroke-width="1.0"/>
<line x1="287.50" y1="591.70" x2="287.50" y2="586.30" stroke="#222" stroke-width="1.0"/>
<line x1="283.31" y1="586.50" x2="290.84" y2="586.50" stroke="#222" stroke-width="1.0"/>
<line x1="310.50" y1="614.90" x2="310.50" y2="612.20" stroke="#222" stroke-width="1.0"/>
<line x1="306.96" y1="612.50" x2="314.49" y2="612.50" stroke="#222" stroke-width="1.0"/>
<line x1="324.50" y1="615.90" x2="324.50" y2="611.60" stroke="#222" stroke-width="1.0"/>
<line x1="320.41" y1="611.50" x2="327.94" y2="611.50" stroke="#222" stroke-width="1.0"/>
<line x1="235.40" y1="667.50" x2="238.00" y2="667.50" stroke="#666" stroke-width="1.0"/>
<line x1="248.90" y1="667.50" x2="251.50" y2="667.50" stroke="#666" stroke-width="1.0"/>
<line x1="271.30" y1="667.50" x2="276.10" y2="667.50" stroke="#333" stroke-width="1.0"/>
<line x1="273.50" y1="664.70" x2="273.50" y2="669.50" stroke="#333" stroke-width="1.0"/>
<line x1="284.70" y1="667.50" x2="289.50" y2="667.50" stroke="#333" stroke-width="1.0"/>
<line x1="287.50" y1="664.70" x2="287.50" y2="669.50" stroke="#333" stroke-width="1.0"/>
<line x1="308.00" y1="667.50" x2="312.80" y2="667.50" stroke="#333" stroke-width="1.0"/>
<line x1="310.50" y1="664.70" x2="310.50" y2="669.50" stroke="#333" stroke-width="1.0"/>
<line x1="321.40" y1="667.50" x2="326.20" y2="667.50" stroke="#333" stroke-width="1.0"/>
<line x1="323.50" y1="664.70" x2="323.50" y2="669.50" stroke="#333" stroke-width="1.0"/>
<line x1="235.40" y1="676.50" x2="238.00" y2="676.50" stroke="#666" stroke-width="1.0"/>
<line x1="248.90" y1="676.50" x2="251.50" y2="676.50" stroke="#666" stroke-width="1.0"/>
<line x1="272.40" y1="676.50" x2="275.00" y2="676.50" stroke="#666" stroke-width="1.0"/>
<line x1="285.80" y1="676.50" x2="288.40" y2="676.50" stroke="#666" stroke-width="1.0"/>
<line x1="308.00" y1="676.50" x2="312.80" y2="676.50" stroke="#333" stroke-width="1.0"/>
<line x1="310.50" y1="674.50" x2="310.50" y2="679.30" stroke="#333" stroke-width="1.0"/>
<line x1="321.40" y1="676.50" x2="326.20" y2="676.50" stroke="#333" stroke-width="1.0"/>
<line x1="323.50" y1="674.50" x2="323.50" y2="679.30" stroke="#333" stroke-width="1.0"/>
<text x="216.80" y="669.10" font-size="7.9" text-anchor="end" textLength="33.50" lengthAdjust="spacingAndGlyphs" fill="#1a1a1a">Collagen</text>
<text x="216.80" y="679.20" font-size="7.9" text-anchor="end" textLength="15.00" lengthAdjust="spacingAndGlyphs" fill="#1a1a1a">ASA</text>
<line x1="271.00" y1="582.50" x2="288.50" y2="582.50" stroke="#1a1a1a" stroke-width="1.0"/>
<path d="M278.30,576.60 H281.50 M278.10,578.40 H281.30 M279.60,575.20 L278.80,579.80 M280.80,575.20 L280.00,579.80" stroke="#3a3a3a" stroke-width="0.75" fill="none"/>
<text x="196.90" y="604.20" font-size="9.6" text-anchor="middle" textLength="53.90" lengthAdjust="spacingAndGlyphs" transform="rotate(-90 196.90 604.20)" fill="#1a1a1a">5-HT (ng/ml)</text>
<rect x="228.80" y="551.90" width="6.30" height="7.60" fill="#a3002b"/>
<rect x="228.80" y="563.70" width="6.30" height="7.60" fill="#2e4c80"/>
<text x="238.00" y="558.10" font-size="8.0" text-anchor="start" textLength="25.50" lengthAdjust="spacingAndGlyphs" fill="#1a1a1a">ACC WT</text>
<text x="238.00" y="569.60" font-size="8.0" text-anchor="start" textLength="26.40" lengthAdjust="spacingAndGlyphs" fill="#1a1a1a">ACC DKI</text>
<text x="354.74" y="540.50" font-size="11.4" text-anchor="start" textLength="5.01" lengthAdjust="spacingAndGlyphs" fill="#1a1a1a">J</text>
<line x1="397.80" y1="548.70" x2="397.80" y2="659.40" stroke="#050505" stroke-width="1.2"/>
<line x1="394.80" y1="658.80" x2="397.80" y2="658.80" stroke="#050505" stroke-width="1.2"/>
<text x="391.80" y="661.50" font-size="7.9" text-anchor="end" fill="#1a1a1a">0</text>
<line x1="394.80" y1="637.34" x2="397.80" y2="637.34" stroke="#050505" stroke-width="1.2"/>
<text x="391.80" y="640.04" font-size="7.9" text-anchor="end" fill="#1a1a1a">500</text>
<line x1="394.80" y1="615.88" x2="397.80" y2="615.88" stroke="#050505" stroke-width="1.2"/>
<text x="391.80" y="618.58" font-size="7.9" text-anchor="end" fill="#1a1a1a">1000</text>
<line x1="394.80" y1="594.42" x2="397.80" y2="594.42" stroke="#050505" stroke-width="1.2"/>
<text x="391.80" y="597.12" font-size="7.9" text-anchor="end" fill="#1a1a1a">1500</text>
<line x1="394.80" y1="572.96" x2="397.80" y2="572.96" stroke="#050505" stroke-width="1.2"/>
<text x="391.80" y="575.66" font-size="7.9" text-anchor="end" fill="#1a1a1a">2000</text>
<line x1="394.80" y1="551.50" x2="397.80" y2="551.50" stroke="#050505" stroke-width="1.2"/>
<text x="391.80" y="554.20" font-size="7.9" text-anchor="end" fill="#1a1a1a">2500</text>
<rect x="405.80" y="657.90" width="9.30" height="0.90" fill="#a3002b"/>
<rect x="414.80" y="658.30" width="1.30" height="0.50" fill="#a3002b"/>
<rect x="415.10" y="658.00" width="9.30" height="0.80" fill="#2e4c80"/>
<rect x="432.90" y="618.10" width="9.30" height="40.70" fill="#a3002b"/>
<rect x="441.90" y="618.40" width="1.30" height="40.40" fill="#a3002b"/>
<rect x="442.20" y="576.10" width="9.30" height="82.70" fill="#2e4c80"/>
<rect x="459.80" y="658.00" width="9.30" height="0.80" fill="#a3002b"/>
<rect x="468.80" y="658.30" width="1.30" height="0.50" fill="#a3002b"/>
<rect x="469.10" y="658.00" width="9.30" height="0.80" fill="#2e4c80"/>
<rect x="486.90" y="644.30" width="9.30" height="14.50" fill="#a3002b"/>
<rect x="495.90" y="644.60" width="1.30" height="14.20" fill="#a3002b"/>
<rect x="496.20" y="610.20" width="9.30" height="48.60" fill="#2e4c80"/>
<line x1="410.50" y1="657.90" x2="410.50" y2="657.20" stroke="#222" stroke-width="1.0"/>
<line x1="407.85" y1="657.50" x2="413.05" y2="657.50" stroke="#222" stroke-width="1.0"/>
<line x1="419.50" y1="658.00" x2="419.50" y2="657.20" stroke="#222" stroke-width="1.0"/>
<line x1="417.15" y1="657.50" x2="422.35" y2="657.50" stroke="#222" stroke-width="1.0"/>
<line x1="437.50" y1="618.10" x2="437.50" y2="607.80" stroke="#222" stroke-width="1.0"/>
<line x1="434.95" y1="607.50" x2="440.15" y2="607.50" stroke="#222" stroke-width="1.0"/>
<line x1="446.50" y1="576.10" x2="446.50" y2="561.20" stroke="#222" stroke-width="1.0"/>
<line x1="444.25" y1="561.50" x2="449.45" y2="561.50" stroke="#222" stroke-width="1.0"/>
<line x1="464.50" y1="658.00" x2="464.50" y2="657.50" stroke="#222" stroke-width="1.0"/>
<line x1="461.85" y1="657.50" x2="467.05" y2="657.50" stroke="#222" stroke-width="1.0"/>
<line x1="473.50" y1="658.00" x2="473.50" y2="657.40" stroke="#222" stroke-width="1.0"/>
<line x1="471.15" y1="657.50" x2="476.35" y2="657.50" stroke="#222" stroke-width="1.0"/>
<line x1="491.50" y1="644.30" x2="491.50" y2="640.10" stroke="#222" stroke-width="1.0"/>
<line x1="488.95" y1="640.50" x2="494.15" y2="640.50" stroke="#222" stroke-width="1.0"/>
<line x1="500.50" y1="610.20" x2="500.50" y2="605.40" stroke="#222" stroke-width="1.0"/>
<line x1="498.25" y1="605.50" x2="503.45" y2="605.50" stroke="#222" stroke-width="1.0"/>
<line x1="406.90" y1="667.50" x2="409.50" y2="667.50" stroke="#666" stroke-width="1.0"/>
<line x1="420.70" y1="667.50" x2="423.30" y2="667.50" stroke="#666" stroke-width="1.0"/>
<line x1="433.00" y1="667.50" x2="437.80" y2="667.50" stroke="#333" stroke-width="1.0"/>
<line x1="435.50" y1="664.60" x2="435.50" y2="669.40" stroke="#333" stroke-width="1.0"/>
<line x1="446.40" y1="667.50" x2="451.20" y2="667.50" stroke="#333" stroke-width="1.0"/>
<line x1="448.50" y1="664.60" x2="448.50" y2="669.40" stroke="#333" stroke-width="1.0"/>
<line x1="461.10" y1="667.50" x2="463.70" y2="667.50" stroke="#666" stroke-width="1.0"/>
<line x1="474.50" y1="667.50" x2="477.10" y2="667.50" stroke="#666" stroke-width="1.0"/>
<line x1="486.80" y1="667.50" x2="491.60" y2="667.50" stroke="#333" stroke-width="1.0"/>
<line x1="489.50" y1="664.60" x2="489.50" y2="669.40" stroke="#333" stroke-width="1.0"/>
<line x1="499.90" y1="667.50" x2="504.70" y2="667.50" stroke="#333" stroke-width="1.0"/>
<line x1="502.50" y1="664.60" x2="502.50" y2="669.40" stroke="#333" stroke-width="1.0"/>
<line x1="406.90" y1="676.50" x2="409.50" y2="676.50" stroke="#666" stroke-width="1.0"/>
<line x1="420.70" y1="676.50" x2="423.30" y2="676.50" stroke="#666" stroke-width="1.0"/>
<line x1="434.10" y1="676.50" x2="436.70" y2="676.50" stroke="#666" stroke-width="1.0"/>
<line x1="447.50" y1="676.50" x2="450.10" y2="676.50" stroke="#666" stroke-width="1.0"/>
<line x1="460.00" y1="676.50" x2="464.80" y2="676.50" stroke="#333" stroke-width="1.0"/>
<line x1="462.50" y1="674.50" x2="462.50" y2="679.30" stroke="#333" stroke-width="1.0"/>
<line x1="473.40" y1="676.50" x2="478.20" y2="676.50" stroke="#333" stroke-width="1.0"/>
<line x1="475.50" y1="674.50" x2="475.50" y2="679.30" stroke="#333" stroke-width="1.0"/>
<line x1="486.80" y1="676.50" x2="491.60" y2="676.50" stroke="#333" stroke-width="1.0"/>
<line x1="489.50" y1="674.50" x2="489.50" y2="679.30" stroke="#333" stroke-width="1.0"/>
<line x1="499.90" y1="676.50" x2="504.70" y2="676.50" stroke="#333" stroke-width="1.0"/>
<line x1="502.50" y1="674.50" x2="502.50" y2="679.30" stroke="#333" stroke-width="1.0"/>
<text x="391.40" y="669.10" font-size="7.9" text-anchor="end" textLength="33.20" lengthAdjust="spacingAndGlyphs" fill="#1a1a1a">Collagen</text>
<text x="391.40" y="679.00" font-size="7.9" text-anchor="end" textLength="37.00" lengthAdjust="spacingAndGlyphs" fill="#1a1a1a">Ticagrelor</text>
<line x1="437.10" y1="558.50" x2="448.40" y2="558.50" stroke="#1a1a1a" stroke-width="1.0"/>
<path d="M441.10,552.30 H444.30 M440.90,554.10 H444.10 M442.40,550.90 L441.60,555.50 M443.60,550.90 L442.80,555.50" stroke="#3a3a3a" stroke-width="0.75" fill="none"/>
<line x1="489.20" y1="592.50" x2="500.80" y2="592.50" stroke="#1a1a1a" stroke-width="1.0"/>
<path d="M493.70,587.20 H496.90 M493.50,589.00 H496.70 M495.00,585.80 L494.20,590.40 M496.20,585.80 L495.40,590.40" stroke="#3a3a3a" stroke-width="0.75" fill="none"/>
<text x="491.10" y="640.20" font-size="6.0" text-anchor="middle" fill="#1a1a1a" style="stroke-width:0.15px">*</text>
<text x="500.60" y="605.50" font-size="6.0" text-anchor="middle" fill="#1a1a1a" style="stroke-width:0.15px">*</text>
<text x="365.4" y="604.4" font-size="9.6" text-anchor="middle" transform="rotate(-90 365.4 604.4)" fill="#1a1a1a" textLength="55" lengthAdjust="spacingAndGlyphs">TXA<tspan font-size="6.2" dy="1.3">2</tspan><tspan dy="-1.3"> (pg/ml)</tspan></text>
<rect x="464.20" y="552.00" width="6.30" height="7.60" fill="#a3002b"/>
<rect x="464.20" y="563.90" width="6.30" height="7.60" fill="#2e4c80"/>
<text x="473.80" y="558.20" font-size="8.0" text-anchor="start" textLength="24.70" lengthAdjust="spacingAndGlyphs" fill="#1a1a1a">ACC WT</text>
<text x="473.80" y="569.80" font-size="8.0" text-anchor="start" textLength="26.20" lengthAdjust="spacingAndGlyphs" fill="#1a1a1a">ACC DKI</text>
<line x1="49.60" y1="135.80" x2="210.00" y2="135.80" stroke="#050505" stroke-width="1.25"/>
<line x1="265.00" y1="135.80" x2="430.50" y2="135.80" stroke="#050505" stroke-width="1.25"/>
<line x1="49.60" y1="309.80" x2="210.10" y2="309.80" stroke="#050505" stroke-width="1.25"/>
<line x1="49.50" y1="484.90" x2="210.20" y2="484.90" stroke="#050505" stroke-width="1.25"/>
<line x1="264.60" y1="484.80" x2="334.00" y2="484.80" stroke="#050505" stroke-width="1.25"/>
<line x1="397.60" y1="484.70" x2="466.50" y2="484.70" stroke="#050505" stroke-width="1.25"/>
<line x1="49.70" y1="658.80" x2="164.30" y2="658.80" stroke="#050505" stroke-width="1.25"/>
<line x1="223.10" y1="658.70" x2="337.60" y2="658.70" stroke="#050505" stroke-width="1.25"/>
<line x1="397.20" y1="658.80" x2="511.70" y2="658.80" stroke="#050505" stroke-width="1.25"/>
<rect x="0" y="1" width="520" height="1" fill="#a0a0a0"/>
<rect x="1" y="0" width="1" height="699" fill="#9a9a9a"/>
<rect x="518" y="0" width="1" height="699" fill="#5a5a5a"/>
<rect x="0" y="697" width="520" height="1" fill="#8a8a8a"/>
<rect x="0" y="0" width="520" height="1" fill="#0e0e0e"/>
<rect x="0" y="0" width="1" height="699" fill="#222"/>
<rect x="519" y="0" width="1" height="699" fill="#333"/>
<rect x="0" y="698" width="520" height="1" fill="#080808"/>
</svg>
</body></html>
